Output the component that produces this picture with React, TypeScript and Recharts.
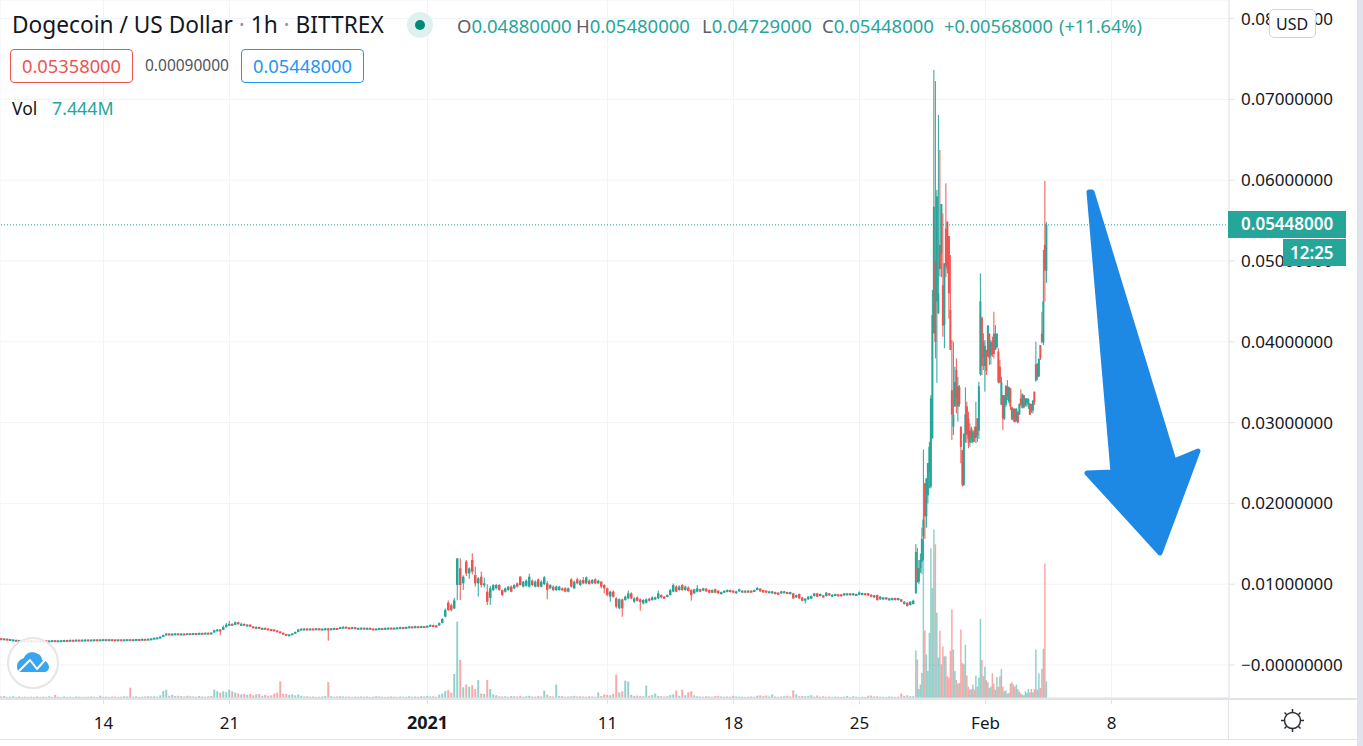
import React from 'react';
import {
  Bar,
  CartesianGrid,
  ComposedChart,
  ReferenceLine,
  XAxis,
  YAxis,
} from 'recharts';

// prices are in units of 0.00001 USD, volumes in millions
const PRICE_UNIT = 0.00001;
const LAST_PRICE = 5448;

const priceTicks = [0, 1000, 2000, 3000, 4000, 5000, 6000, 7000, 8000];
const dayTicks = [138, 306, 570, 810, 978, 1146, 1314, 1482];
const dayLabels = ['14', '21', '2021', '11', '18', '25', 'Feb', '8'];

// 4h candles, December to the end of January
const flatOpens = [
  332,326,326,316,312,312,308,310,306,304, 306,302,304,300,303,306,302,304,308,305,
  306,308,310,308,312,310,314,312,314,316, 314,316,318,316,318,320,318,320,318,316,
  318,316,318,320,318,320,322,320,324,322, 326,330,338,342,352,372,390,384,388,392,
  386,390,388,394,390,396,392,398,394,400, 396,402,430,440,436,470,500,510,498,530,
  505,510,495,500,478,470,472,458,460,452, 445,440,428,415,400,385,378,380,392,410,
  440,450,452,448,452,450,454,450,450,454, 446,454,458,456,470,474,466,462,468,456,
  460,462,458,460,452,446,452,458,454,460, 462,458,462,466,470,468,472,478,474,480,
  476,482,478,
  477,495,490,490,520,600,772,740,700,990, 1197,1011,1279,1134,1300,1114,1011,1093,990,908,
  830,928,949,990,928,908,928,970,949,1011, 1093,970,982,970,1044,970,1060,970,1002,1011,
  949,970,928,928,949,949,908,1060,949,1060, 990,1052,1011,1044,1011,1060,1011,1031,990,949,
  846,908,825,702,813,805,825,887,784,837, 813,763,771,821,805,813,825,866,846,846,
  866,908,970,928,990,928,957,
  928,887,908,937,920,945,928,895,937,920, 879,899,908,928,920,887,912,903,920,903,
  920,912,928,945,928,920,895,887,903,895, 887,895,903,879,887,837,879,837,796,813,
  821,854,887,854,862,854,887,846,862,875, 875,862,866,887,866,862,870,870,887,887,
  870,837,866,813,813,837,804,804,829,804, 813,755,771,743,755,
];
const flatHighs = [
  336,332,328,324,318,314,312,312,308,308, 308,306,306,305,308,308,306,310,310,308,
  310,312,312,314,314,316,316,316,318,318, 318,320,320,320,322,322,322,322,320,320,
  320,320,322,322,322,324,324,326,326,328, 332,340,344,356,376,396,394,392,396,396,
  392,392,396,396,398,398,400,400,402,402, 404,436,445,444,490,520,548,515,538,535,
  525,512,505,502,480,476,474,462,462,455, 447,442,430,417,402,387,382,394,414,445,
  454,456,454,456,454,458,456,454,458,456, 458,462,460,474,480,476,468,472,470,462,
  466,464,464,462,454,454,462,460,464,466, 466,466,470,474,472,476,482,480,486,482,
  486,484,490,
  502,500,494,526,580,700,800,760,830,1320, 1320,1110,1300,1210,1382,1217,1090,1155,1080,1000,
  980,1000,1005,1000,935,960,980,985,1000,1020, 1100,1040,1060,1130,1060,1050,1070,1050,1100,1040,
  1000,985,985,980,960,965,960,1075,1045,1080, 1060,1090,1095,1060,1065,1075,1055,1040,1000,960,
  920,925,840,825,820,860,920,900,840,850, 825,815,825,830,850,845,920,875,855,875,
  940,1010,985,985,1000,985,975,
  937,942,990,945,955,950,935,935,945,925, 910,925,935,935,925,918,945,925,925,925,
  925,934,965,952,934,925,917,917,908,900, 917,917,908,908,893,872,885,842,828,852,
  860,893,893,885,868,905,892,876,884,880, 880,892,892,892,892,884,912,896,892,892,
  875,868,872,852,842,842,830,834,834,834, 818,790,776,790,810,
];
const flatLows = [
  328,324,318,314,308,305,305,303,301,302, 300,300,297,298,300,299,300,302,303,303,
  304,306,306,306,308,308,310,310,312,312, 312,314,314,314,316,316,316,316,314,314,
  314,314,316,316,316,318,318,318,320,320, 324,328,336,340,350,368,378,382,384,382,
  384,386,386,388,388,390,390,392,392,394, 392,398,425,370,430,462,490,490,495,500,
  490,490,490,472,465,465,452,454,448,440, 435,425,410,395,380,372,374,376,388,405,
  436,446,444,444,446,446,446,446,446,301, 442,450,452,452,466,460,456,458,450,452,
  456,452,454,446,440,442,448,450,450,456, 452,454,460,462,462,464,468,468,470,470,
  470,474,474,
  472,472,466,486,515,590,670,665,690,800, 805,930,1100,1065,1120,970,846,960,960,743,
  743,915,935,920,855,895,920,900,940,960, 985,960,970,960,975,960,960,960,990,813,
  940,915,915,920,920,900,900,960,940,1000, 980,1000,1000,995,1000,1000,1000,950,887,850,
  784,835,700,690,598,795,815,815,770,785, 672,750,760,785,795,805,815,825,820,840,
  860,900,900,920,920,920,910,
  796,880,900,902,915,905,890,890,890,880, 870,895,900,898,890,880,905,898,898,898,
  898,906,922,906,893,893,890,880,874,865, 880,890,882,872,820,830,818,790,763,806,
  815,848,840,848,830,848,856,840,856,848, 848,856,860,860,860,856,864,864,864,856,
  840,830,796,806,806,806,798,798,798,798, 778,748,724,736,750,
];
const flatCloses = [
  330,330,322,322,316,308,310,306,304,306, 302,304,300,303,306,302,304,308,305,306,
  308,310,308,312,310,314,312,314,316,314, 316,318,316,318,320,318,320,318,316,318,
  316,318,320,318,320,322,320,324,322,326, 330,338,342,352,372,390,384,388,392,386,
  390,388,394,390,396,392,398,394,400,396, 402,430,440,436,470,500,510,498,530,505,
  510,495,500,478,470,472,458,460,452,445, 440,428,415,400,385,378,380,392,410,440,
  450,452,448,452,450,454,450,450,454,446, 454,458,456,470,474,466,462,468,456,460,
  462,458,460,452,446,452,458,454,460,462, 458,462,466,470,468,472,478,474,480,476,
  482,478,486,
  497,477,470,520,570,680,680,680,800,1320, 990,1093,1134,1196,1155,1011,1073,990,1011,784,
  950,990,990,928,866,949,970,908,990,970, 990,1031,1044,1093,990,1031,970,1031,1085,928,
  990,928,970,970,928,908,949,970,1031,1011, 1044,1011,1085,1002,1052,1011,1044,970,949,866,
  908,846,722,813,702,846,887,825,825,796, 780,805,813,796,837,837,887,837,825,866,
  928,990,908,970,928,970,916,
  866,937,949,908,949,912,895,928,895,887, 903,920,928,903,895,912,937,920,903,920,
  903,928,953,912,899,899,912,912,879,870, 912,912,887,903,825,866,825,796,821,846,
  854,887,846,879,837,895,862,870,879,854, 854,887,887,866,887,879,899,891,870,862,
  846,862,804,846,837,813,825,829,804,829, 784,784,730,784,796,
];
const flatVolumes = [
  0.7,0.9,0.5,0.6,0.8,0.5,0.7,0.5,0.6,0.5, 0.6,0.5,0.7,0.5,0.6,0.5,0.8,0.5,1.4,0.6,
  0.5,0.7,0.5,0.6,0.5,0.7,0.6,0.5,0.5,0.6, 0.7,0.6,0.5,1.0,0.5,0.6,0.5,0.7,0.6,0.5,
  0.6,0.8,0.7,4.6,0.6,0.8,0.5,0.6,0.7,0.8, 0.7,0.8,0.6,1.2,3.1,3.7,1.0,1.4,0.9,1.0,
  0.8,0.7,1.0,0.8,0.7,0.6,0.9,0.7,0.6,0.8, 0.9,3.7,3.0,2.4,3.0,2.6,3.7,3.0,2.4,2.0,
  1.6,1.8,1.4,1.8,1.2,1.6,1.8,1.0,1.4,1.0, 1.2,2.0,2.4,7.4,2.0,1.8,1.4,1.6,1.2,1.6,
  1.0,0.7,0.8,0.6,0.7,0.5,0.6,0.7,0.9,7.1, 0.8,0.6,0.7,0.8,0.7,0.6,0.7,0.5,0.6,0.6,
  0.7,0.6,0.7,0.5,0.6,0.8,0.7,0.6,0.5,0.6, 0.7,0.6,0.5,0.7,0.6,0.5,0.8,0.6,0.7,0.6,
  0.8,0.7,1.0,
  0.7,0.8,0.6,1.5,2.0,3.0,3.5,2.4,10.7,34, 17,4.8,6,5,5.7,4,8,2,1.8,8,
  4,1.6,1.2,0.8,0.7,0.8,0.6,0.9,0.8,0.7, 1.0,0.6,0.8,1.0,0.7,0.6,0.9,0.7,3.3,1.5,
  0.8,0.7,6,0.9,0.9,0.6,0.7,0.8,1.0,0.7, 0.8,0.7,0.6,0.8,0.7,0.6,2.5,0.9,1.6,1.4,
  1.2,1.8,10.4,2.5,3,7.7,7.3,1.4,0.9,1.1, 0.9,0.8,5.5,1.0,1.3,2.0,0.9,0.8,0.7,0.8,
  1.3,1.6,3.3,1.0,3.7,1.2,2.5,
  3,1.2,0.8,0.7,0.6,0.8,0.7,0.6,0.9,1.0, 0.7,0.6,0.7,0.6,1.0,0.7,0.6,0.6,0.5,0.6,
  0.7,0.6,1.0,1.2,0.8,1.1,0.7,1.6,0.7,0.6, 0.7,0.8,1.0,0.7,3.4,1.6,0.8,0.9,0.8,0.9,
  1.3,0.6,1.1,0.6,0.8,0.6,0.7,0.5,0.6,0.6, 0.5,0.6,0.9,0.5,0.8,0.6,0.5,0.6,0.5,1.0,
  1.1,0.7,0.8,0.6,0.6,0.5,0.7,0.6,0.5,0.6, 2,1.0,1.2,0.8,0.8,
];

// 2h candles through the late January spike
const spikeOpens = [
  890,1200,1030,1200,1280,1590,2250,1840,2100,2390, 2207,2805,4105,5000,4500,4350,5200,5095,4700,4208,
  5400,5487,5309,4393,3400,2950,3200,3650,3200,3440, 2950,2661,2230,2850,3200,3050,2750,2929,2760,2900,
  2810,3053,2900,3600,4300,4000,3700,3900,3820,4100, 3830,4000,4100,3900,3930,3880,3692,3220,3340,3050,
  3220,3450,3260,3424,3190,3040,3170,3020,3135,3100, 3300,3180,3340,3215,3240,3220,3238,3230,3150,3383,
  3520,3730,3570,3960,4100,3990,5200,4880,
];
const spikeHighs = [
  1498,1450,1300,1380,1700,2670,2250,2310,2500,2764, 3340,4641,7363,7227,5880,6807,6373,5705,5590,4971,
  5961,5487,5309,5074,4022,4002,3692,3795,3568,3465, 2950,2661,2867,3436,3259,3135,2991,2950,2908,2950,
  3259,3053,3507,4847,4311,4105,4022,3900,4208,4105, 4022,4063,4373,4208,4105,3919,3775,3568,3342,3342,
  3465,3527,3445,3424,3197,3177,3180,3177,3135,3238, 3412,3362,3342,3300,3300,3300,3238,3230,3280,3383,
  4002,3733,3795,3960,4373,5136,5990,5480,
];
const spikeLows = [
  880,1019,1000,1140,1130,1300,1560,1700,2000,2187, 2187,2805,4105,3795,3494,4350,4806,4800,4063,3919,
  4800,4847,4287,3900,2785,2847,3197,3115,3012,3197, 2496,2207,2215,2750,2750,2682,2700,2750,2744,2760,
  2744,2760,2800,3580,3589,3651,3383,3589,3816,3713, 3720,3816,3795,3900,3920,3486,3486,3218,2908,3032,
  3197,3280,3240,3156,3032,3012,3000,3012,2990,3094, 3197,3177,3177,3200,3197,3170,3094,3120,3115,3220,
  3507,3527,3568,3775,3981,3960,4497,4729,
];
const spikeCloses = [
  1400,1030,1200,1300,1560,1800,1840,2310,2500,2700, 3300,4330,5672,4000,5800,4600,4900,5705,4200,4971,
  4930,4900,4600,3900,3100,3100,3500,3300,3450,3230, 2700,2230,2860,3100,2850,2800,2900,2805,2880,2810,
  2950,2840,3450,4500,3700,3800,3950,3640,4200,3800, 4000,3850,3850,4100,4100,3500,3500,3500,3050,3330,
  3450,3320,3440,3200,3040,3170,3010,3170,3000,3230, 3220,3350,3190,3300,3300,3290,3100,3150,3270,3260,
  3720,3560,3790,3800,4000,4500,4880,5448,
];
const spikeVolumes = [
  21.2,17.1,4,6,11.2,70,30,19.4,12,29, 66.7,49,75,68.5,38,18,30,15,23,18.6,
  18.6,9.7,9,21,39.5,21.6,12,8,6.4,6.7, 30.5,15.6,15,23.8,10,5,3.7,4,6,3.7,
  10,5,9,35.3,17,9.7,14,8,7,4.5, 5,11,6.4,3.7,9.4,5,9.7,13,5,3,
  3.4,2,2.2,6.4,7,6,5,6,4,3, 2,1.5,1.2,3,2.2,4,2.5,4,2.5,4,
  21.6,3.7,11,4.5,13,22,60,7.444,
];

const HOUR_END = 1229 / 0.75;
const FLAT_FIRST_HOUR = 2;
const FLAT_STEP = 4;
const SPIKE_FIRST_HOUR = 1221.5;
const SPIKE_STEP = 2;

const candles = [
  ...flatOpens.map((open, i) => ({
    hour: FLAT_FIRST_HOUR + i * FLAT_STEP,
    open,
    close: flatCloses[i],
    range: [flatLows[i], flatHighs[i]],
    volume: flatVolumes[i],
    flat: true,
  })),
  ...spikeOpens.map((open, i) => ({
    hour: SPIKE_FIRST_HOUR + i * SPIKE_STEP,
    open,
    close: spikeCloses[i],
    range: [spikeLows[i], spikeHighs[i]],
    volume: spikeVolumes[i],
    flat: false,
  })),
];

const UP = '#26a69a';
const DOWN = '#ef5350';
const FONT = '"Noto Sans", sans-serif';

const CandleShape = (props: any) => {
  const { x, y, width, height, payload } = props;
  const [low, high] = payload.range;
  const k = high > low ? height / (high - low) : 0;
  const color = payload.close >= payload.open ? UP : DOWN;
  const cx = x + width / 2;
  const top = Math.max(payload.open, payload.close);
  const bodyW = payload.flat ? 2.5 : 2;
  const bodyH = Math.max(2, Math.abs(payload.open - payload.close) * k);
  return (
    <g>
      <rect x={cx - 0.5} y={y} width={1} height={height} fill={color} />
      <rect x={cx - bodyW / 2} y={y + (high - top) * k} width={bodyW} height={bodyH} fill={color} />
    </g>
  );
};

const VolumeShape = (props: any) => {
  const { x, y, width, height, payload } = props;
  const up = payload.close >= payload.open;
  const w = payload.flat ? 2 : 1.5;
  return (
    <rect
      x={x + width / 2 - w / 2}
      y={y}
      width={w}
      height={Math.max(1, height)}
      fill={up ? UP : DOWN}
      fillOpacity={0.5}
    />
  );
};

const DayTick = (props: any) => {
  const { x, y, payload } = props;
  const label = dayLabels[dayTicks.indexOf(payload.value)];
  const bold = label === '2021';
  return (
    <text
      x={x}
      y={y + 23}
      textAnchor="middle"
      fontFamily={FONT}
      fontSize={bold ? 18 : 17}
      fontWeight={bold ? 700 : 400}
      fill="#131722"
    >
      {label}
    </text>
  );
};

const formatPrice = (v: number) =>
  v === 0 ? '\u22120.00000000' : (v * PRICE_UNIT).toFixed(8);

const Label = ({ x, y, color, size = 18, children, weight = 400 }: any) => (
  <div
    style={{
      position: 'absolute',
      left: x,
      top: y,
      color,
      fontSize: size,
      fontWeight: weight,
      lineHeight: '24px',
      whiteSpace: 'nowrap',
    }}
  >
    {children}
  </div>
);

const Box = ({ x, y, w, h, color, fill = 'transparent', radius = 4 }: any) => (
  <div
    style={{
      position: 'absolute',
      left: x,
      top: y,
      width: w,
      height: h,
      boxSizing: 'border-box',
      border: `1px solid ${color}`,
      borderRadius: radius,
      background: fill,
    }}
  />
);

const ohlcLabels = [
  { x: 457, label: 'O', value: '0.04880000' },
  { x: 576, label: 'H', value: '0.05480000' },
  { x: 702, label: 'L', value: '0.04729000' },
  { x: 822, label: 'C', value: '0.05448000' },
];

export default function App() {
  return (
    <div
      style={{
        position: 'absolute',
        left: 0,
        top: 0,
        width: 1363,
        height: 746,
        background: '#fff',
        overflow: 'hidden',
        fontFamily: FONT,
      }}
    >
      <ComposedChart
        width={1357}
        height={739}
        data={candles}
        margin={{ top: 0, right: 0, bottom: 0, left: 0 }}
      >
        <CartesianGrid xAxisId="time" yAxisId="price" stroke="#f0f3fa" />
        <XAxis
          xAxisId="time"
          dataKey="hour"
          type="number"
          domain={[0, HOUR_END]}
          ticks={dayTicks}
          interval={0}
          height={41}
          tick={<DayTick />}
          tickSize={6}
          stroke="#e0e3eb"
          allowDataOverflow
        />
        <XAxis xAxisId="volTime" dataKey="hour" type="number" domain={[0, HOUR_END]} hide allowDataOverflow />
        <YAxis
          yAxisId="price"
          orientation="right"
          width={128}
          domain={[-408, 8230]}
          ticks={priceTicks}
          interval={0}
          tickFormatter={formatPrice}
          tick={{ fill: '#131722', fontSize: 17, fontFamily: FONT }}
          tickSize={6}
          tickMargin={6}
          stroke="#e0e3eb"
          allowDataOverflow
        />
        <YAxis yAxisId="vol" domain={[0, 311]} hide allowDataOverflow />
        <Bar
          xAxisId="volTime"
          yAxisId="vol"
          dataKey="volume"
          barSize={1}
          shape={<VolumeShape />}
          isAnimationActive={false}
        />
        <ReferenceLine
          xAxisId="time"
          yAxisId="price"
          y={LAST_PRICE}
          stroke={UP}
          strokeDasharray="1 2"
        />
        <Bar
          xAxisId="time"
          yAxisId="price"
          dataKey="range"
          barSize={1}
          shape={<CandleShape />}
          isAnimationActive={false}
        />
      </ComposedChart>

      {/* frame */}
      <div style={{ position: 'absolute', left: 0, top: 698, width: 1357, height: 2, background: '#e0e3eb' }} />
      <div style={{ position: 'absolute', left: 0, top: 739, width: 1357, height: 1, background: '#e0e3eb' }} />
      <div style={{ position: 'absolute', left: 1228, top: 698, width: 1, height: 41, background: '#e0e3eb' }} />
      <div style={{ position: 'absolute', left: 1357, top: 0, width: 6, height: 746, background: '#e0e3eb' }} />

      {/* header */}
      <Label x={12} y={13} color="#131722" size={22.7}>
        Dogecoin / US Dollar <span style={{ color: '#9598a1' }}>·</span> 1h{' '}
        <span style={{ color: '#9598a1' }}>·</span> BITTREX
      </Label>
      <div style={{ position: 'absolute', left: 407, top: 12, width: 26, height: 26, borderRadius: 13, background: '#dff1ef' }} />
      <div style={{ position: 'absolute', left: 415, top: 20, width: 10, height: 10, borderRadius: 5, background: '#00897b' }} />
      {ohlcLabels.map((o) => (
        <Label key={o.label} x={o.x} y={14} color={UP} size={18.5}>
          <span style={{ color: '#5d606b' }}>{o.label}</span>
          {o.value}
        </Label>
      ))}
      <Label x={944} y={14} color={UP} size={18.2}>+0.00568000</Label>
      <Label x={1059} y={14} color={UP} size={18.2}>(+11.64%)</Label>

      <Box x={10} y={49} w={123} h={34} color={DOWN} />
      <Label x={22} y={54} color={DOWN} size={18.3}>0.05358000</Label>
      <Label x={145} y={53} color="#50535e" size={15.5}>0.00090000</Label>
      <Box x={241} y={49} w={123} h={34} color="#2196f3" />
      <Label x={253} y={54} color="#2196f3" size={18.3}>0.05448000</Label>
      <Label x={12} y={96} color="#131722" size={17.5}>Vol</Label>
      <Label x={52} y={96} color={UP} size={17.8}>7.444M</Label>

      {/* price scale badges */}
      <Box x={1269} y={9} w={47} h={29} color="#d1d4dc" fill="#fff" radius={5} />
      <Label x={1276} y={12} color="#131722" size={16}>USD</Label>
      <div style={{ position: 'absolute', left: 1228, top: 211, width: 118, height: 27, background: UP }} />
      <Label x={1241} y={212} color="#fff" size={17} weight={600}>0.05448000</Label>
      <div style={{ position: 'absolute', left: 1283, top: 239, width: 63, height: 27, background: UP }} />
      <Label x={1290} y={241} color="#fff" size={17} weight={600}>12:25</Label>

      {/* drawn arrow, logo and settings icon */}
      <svg width={1363} height={746} style={{ position: 'absolute', left: 0, top: 0 }}>
        <path
          d="M1089 192 L1092 192 L1174 461 L1198 451 L1160 553 L1087 473 L1113 472 Z"
          fill="#1e88e5"
          stroke="#1e88e5"
          strokeWidth={5}
          strokeLinejoin="round"
        />
        <circle cx={33} cy={663} r={25} fill="#fff" fillOpacity={0.85} stroke="#e6e6e6" strokeWidth={2} />
        <path
          d="M17 667 C17 661 21 659 24 658 C26 652 33 651 38 654 C41 655 42 658 42 660 C46 660 49 664 49 667 C49 671 46 672 44 672 L22 672 C19 672 17 670 17 667 Z"
          fill="#39a5f0"
        />
        <path d="M19 671 L30 660 L37 669 L45 660" fill="none" stroke="#fff" strokeWidth={2} strokeLinejoin="round" />
        <g stroke="#2a2e39" strokeWidth={1.5} fill="none">
          <circle cx={1292.5} cy={720.5} r={8} />
          <path d="M1292.5 709 v3 M1292.5 729 v3 M1281 720.5 h3 M1301 720.5 h3 M1284.5 712.5 l2 2 M1298.5 726.5 l2 2 M1300.5 712.5 l-2 2 M1286.5 726.5 l-2 2" />
        </g>
      </svg>
    </div>
  );
}
